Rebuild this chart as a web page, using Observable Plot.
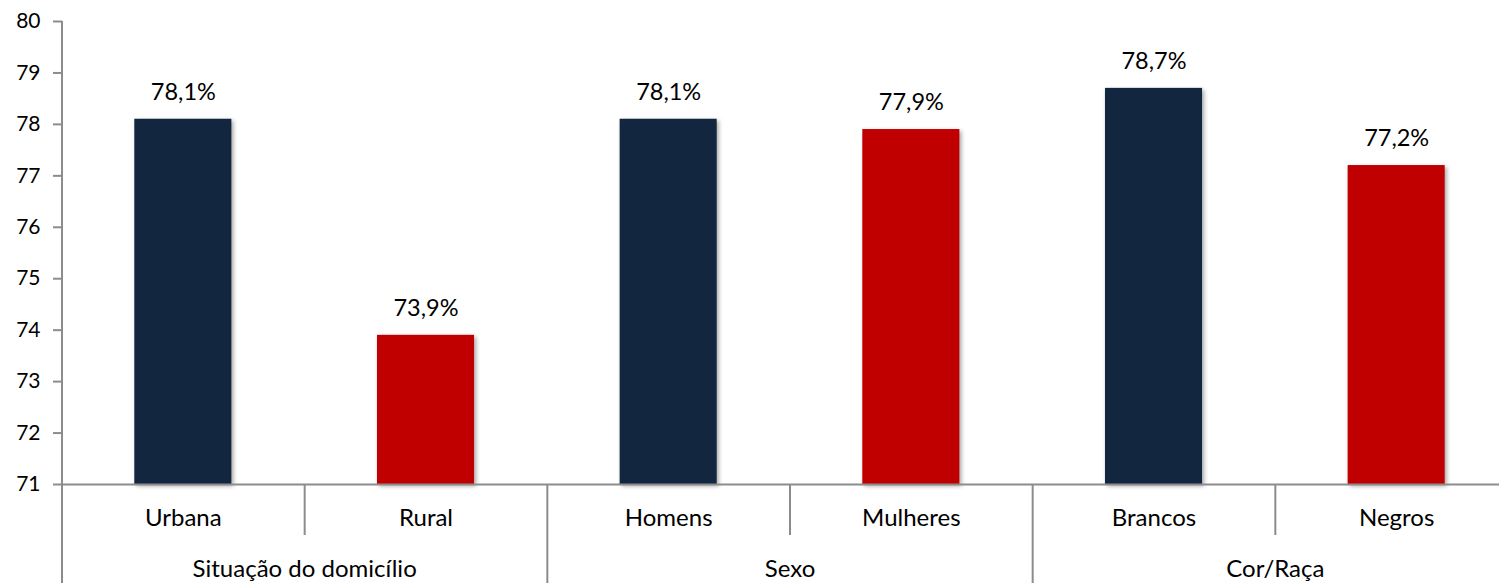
<!DOCTYPE html>
<html>
<head>
<meta charset="utf-8">
<script src="https://cdn.jsdelivr.net/npm/d3@7"></script>
<script src="https://cdn.jsdelivr.net/npm/@observablehq/plot@0.6"></script>
<style>
  html, body { margin: 0; padding: 0; background: #fff; }
  svg { display: block; }
</style>
</head>
<body>
<div id="chart"></div>
<script>
// ---- Data ----
const categories = ["Urbana", "Rural", "Homens", "Mulheres", "Brancos", "Negros"];
const values = [78.1, 73.9, 78.1, 77.9, 78.7, 77.2];
const colors = ["#13263F", "#C00000", "#13263F", "#C00000", "#13263F", "#C00000"];
const groupNames = ["Situação do domicílio", "Sexo", "Cor/Raça"];
const groupFirst = ["Urbana", "Homens", "Brancos"];
const yTicks = [71, 72, 73, 74, 75, 76, 77, 78, 79, 80];

// ---- Layout ----
const W = 1499, H = 583;
const mTop = 21, mBottom = 99, mLeft = 62;
const xRange = [61.5, 1517.5];
const step = (xRange[1] - xRange[0]) / categories.length;
const frameH = H - mTop - mBottom;
const gray = "#8C8C8C";
const font = "Lato";

const data = categories.map((c, i) => ({cat: c, value: values[i], color: colors[i]}));
const groups = groupNames.map((g, i) => ({name: g, first: groupFirst[i]}));
const yMin = yTicks[0], yMax = yTicks[yTicks.length - 1];
const fmt = v => v.toFixed(1).replace(".", ",") + "%";

const fullSeps = categories.filter((d, i) => i % 2 === 0);
const shortSeps = categories.filter((d, i) => i % 2 === 1);

const chart = Plot.plot({
  width: W,
  height: H,
  marginTop: mTop,
  marginBottom: mBottom,
  marginLeft: mLeft,
  marginRight: 0,
  style: {fontFamily: font, background: "#fff", overflow: "visible"},
  x: {type: "band", domain: categories, range: xRange, paddingInner: 0.6, paddingOuter: 0.3, round: false, axis: null},
  y: {domain: [yMin, yMax], axis: null},
  marks: [
    Plot.barY(data, {x: "cat", y1: yMin, y2: "value", fill: "color"}),
    Plot.ruleY([yMin], {stroke: gray, strokeWidth: 2}),
    // y-axis line (left edge of first band)
    Plot.ruleX([categories[0]], {x: d => d, dx: -step / 2, stroke: gray, strokeWidth: 2, insetBottom: -mBottom}),
    // separators below axis
    Plot.ruleX(fullSeps, {x: d => d, dx: -step / 2, stroke: gray, strokeWidth: 2, insetTop: frameH, insetBottom: -mBottom}),
    Plot.ruleX(shortSeps, {x: d => d, dx: -step / 2, stroke: gray, strokeWidth: 2, insetTop: frameH, insetBottom: -51}),
    Plot.axisY({ticks: yTicks, tickSize: 9, tickPadding: 13, stroke: gray, strokeWidth: 2, fill: "#000", fontSize: 21, label: null, tickFormat: d => d}),
    Plot.text(data, {x: "cat", y: "value", text: d => fmt(d.value), dy: -27, fontSize: 23.5, fill: "#000"}),
    Plot.text(categories, {x: d => d, text: d => d, frameAnchor: "bottom", lineAnchor: "middle", dy: 34, fontSize: 24, fill: "#000"}),
    Plot.text(groups, {x: "first", text: "name", dx: step / 2, frameAnchor: "bottom", lineAnchor: "middle", dy: 85, fontSize: 24, fill: "#000"})
  ]
});

chart.querySelectorAll("g[aria-label='bar'] rect").forEach(r => {
  r.style.filter = "drop-shadow(2px 2px 2px rgba(0,0,0,0.35))";
});

document.getElementById("chart").appendChild(chart);
</script>
</body>
</html>
